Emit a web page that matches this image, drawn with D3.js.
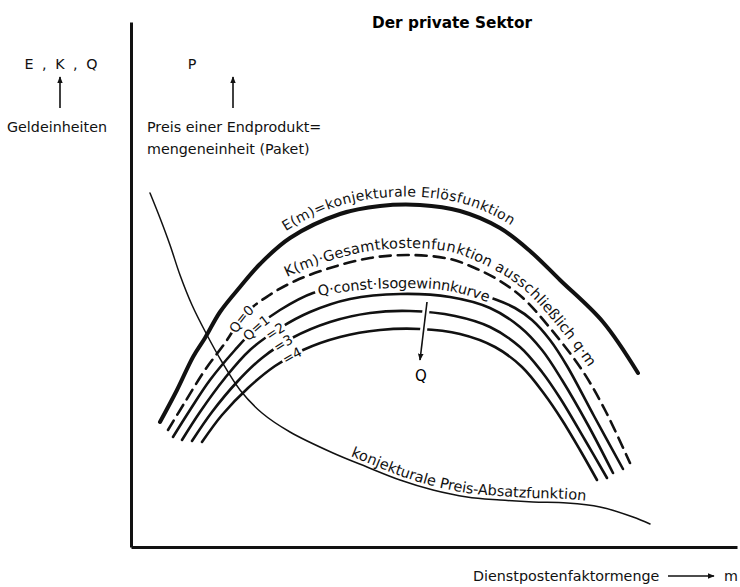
<!DOCTYPE html>
<html>
<head>
<meta charset="utf-8">
<script src="https://cdn.jsdelivr.net/npm/d3@7"></script>
<style>
  html, body { margin: 0; padding: 0; background: #fff; }
  svg { display: block; font-family: "DejaVu Sans", sans-serif; }
</style>
</head>
<body>
<div id="chart"></div>
<script>
// curves as [m, value] pairs (arbitrary units)
const erloes = [[29,125],[46,157],[62,190],[74,209],[89,235],[109,260],[129,283],[159,309],[209,333],[249,341],[289,342],[329,336],[369,319],[399,296],[429,267],[472,225],[507,174]];
const kosten = [[37,117],[54,145],[74,177],[94,204],[114,233],[137,251],[164,266],[199,279],[239,289],[279,292],[319,288],[346,278],[369,266],[392,249],[419,219],[451,177],[474,137],[499,84]];
const iso1 = [[42,110],[59,137],[79,167],[104,197],[127,221],[149,237],[182,254],[219,261],[269,264],[319,261],[366,247],[384,239],[401,227],[419,207],[436,181],[463,131],[492,78]];
const iso2 = [[51,107],[69,135],[94,169],[119,197],[149,219],[179,235],[219,248],[269,253],[319,250],[359,239],[389,220],[411,197],[431,167],[457,122],[482,74]];
const iso3 = [[61,106],[81,135],[106,165],[131,189],[161,209],[199,225],[239,234],[279,236],[324,231],[359,220],[389,200],[411,175],[429,149],[454,107],[476,69]];
const iso4 = [[71,105],[91,132],[117,159],[144,181],[172,197],[209,210],[249,217],[289,218],[329,213],[364,200],[391,180],[414,152],[431,127],[449,97],[466,67]];
const preisAbsatz = [[19,354],[29,329],[39,302],[49,272],[61,242],[76,212],[91,185],[109,157],[131,134],[159,115],[202,94],[236,80],[269,67],[302,57],[336,50],[369,47],[402,45],[436,44],[469,40],[502,30],[519,23]];

// Q direction arrow (from, to)
const qArrow = [[296,245],[289,187]];

// Q values written on the isogewinn curves, and where
const isoLabels = ["Q=0", "Q=1", "=2", "=3", "=4"];
const isoLabelAt = [110, 125, 144, 152, 161];

const W = 740, H = 587;

const x = d3.scaleLinear().domain([0, 606]).range([131, 737]);
const y = d3.scaleLinear().domain([0, 525]).range([547, 22]);

const svg = d3.select('#chart').append('svg')
  .attr('width', W)
  .attr('height', H);

const defs = svg.append('defs');
defs.append('marker')
  .attr('id', 'head')
  .attr('viewBox', '0 0 10 10')
  .attr('refX', 9).attr('refY', 5)
  .attr('markerWidth', 7).attr('markerHeight', 7)
  .attr('markerUnits', 'userSpaceOnUse')
  .attr('orient', 'auto')
  .append('path')
  .attr('d', 'M0,1 L10,5 L0,9 Z')
  .attr('fill', '#111');

// axes, no ticks
svg.append('g')
  .attr('transform', `translate(0,${y(0)})`)
  .call(d3.axisBottom(x).tickValues([]).tickSizeOuter(0))
  .select('.domain').attr('stroke', '#111').attr('stroke-width', 3);

svg.append('g')
  .attr('transform', `translate(${x(0)},0)`)
  .call(d3.axisLeft(y).tickValues([]).tickSizeOuter(0))
  .select('.domain').attr('stroke', '#111').attr('stroke-width', 3);

const line = d3.line()
  .x(d => x(d[0]))
  .y(d => y(d[1]))
  .curve(d3.curveCatmullRom.alpha(0.5));

const curves = [
  { id: 'c-e', data: erloes, width: 4, dash: null },
  { id: 'c-k', data: kosten, width: 2.6, dash: '11,7' },
  { id: 'c-q1', data: iso1, width: 2.6, dash: null },
  { id: 'c-q2', data: iso2, width: 2.6, dash: null },
  { id: 'c-q3', data: iso3, width: 2.6, dash: null },
  { id: 'c-q4', data: iso4, width: 2.6, dash: null },
  { id: 'c-p', data: preisAbsatz, width: 1.5, dash: null }
];

svg.selectAll('.curve')
  .data(curves)
  .join('path')
    .attr('class', 'curve')
    .attr('id', d => d.id)
    .attr('d', d => line(d.data))
    .attr('fill', 'none')
    .attr('stroke', '#111')
    .attr('stroke-width', d => d.width)
    .attr('stroke-dasharray', d => d.dash)
    .attr('stroke-linecap', 'round');

// path length where the curve reaches a given m
function lenAtX(id, m) {
  const node = document.getElementById(id);
  const px = x(m);
  let lo = 0, hi = node.getTotalLength();
  for (let i = 0; i < 40; i++) {
    const mid = (lo + hi) / 2;
    if (node.getPointAtLength(mid).x < px) lo = mid; else hi = mid;
  }
  return lo;
}

const maskLayer = svg.append('g');

function pathLabel(id, text, m, opts = {}) {
  const off = lenAtX(id, m);
  const t = svg.append('text')
    .attr('font-size', opts.size || 14.5)
    .attr('fill', '#111');
  t.append('textPath')
    .attr('href', '#' + id)
    .attr('startOffset', off)
    .attr('text-anchor', opts.anchor || 'start')
    .append('tspan')
    .attr('dy', opts.dy || 0)
    .text(text);
  if (opts.gap) {
    // break the curve under the lettering
    const node = document.getElementById(id);
    const total = node.getTotalLength();
    const len = t.node().getComputedTextLength() + opts.gap;
    const start = opts.anchor === 'middle' ? off - len / 2 : off - opts.gap / 2;
    maskLayer.append('path')
      .attr('d', node.getAttribute('d'))
      .attr('fill', 'none')
      .attr('stroke', '#fff')
      .attr('stroke-width', 6)
      .attr('stroke-dasharray', `0,${Math.max(0, start)},${len},${total}`);
  }
}

// running labels
pathLabel('c-e', 'E(m)=konjekturale Erlösfunktion', 159, { dy: -8, size: 14 });
pathLabel('c-k', 'K(m)·Gesamtkostenfunktion ausschließlich q·m', 159, { dy: -7 });
pathLabel('c-q1', 'Q·const·Isogewinnkurve', 187, { dy: '0.35em', gap: 6 });
pathLabel('c-p', 'konjekturale Preis-Absatzfunktion', 218, { dy: -4 });

// Q values on the isogewinn curves
['c-k', 'c-q1', 'c-q2', 'c-q3', 'c-q4'].forEach((id, i) => {
  pathLabel(id, isoLabels[i], isoLabelAt[i], { dy: '0.35em', gap: 3, anchor: 'middle', size: 13.5 });
});

// arrow for growing Q, white gap where it crosses the curves
svg.append('line')
  .attr('x1', x(qArrow[0][0])).attr('y1', y(qArrow[0][1]))
  .attr('x2', x(qArrow[1][0])).attr('y2', y(qArrow[1][1]))
  .attr('stroke', '#fff').attr('stroke-width', 7);
svg.append('line')
  .attr('x1', x(qArrow[0][0])).attr('y1', y(qArrow[0][1]))
  .attr('x2', x(qArrow[1][0])).attr('y2', y(qArrow[1][1]))
  .attr('stroke', '#111').attr('stroke-width', 1.6)
  .attr('marker-end', 'url(#head)');
svg.append('text')
  .attr('x', x(qArrow[1][0]) + 1)
  .attr('y', y(qArrow[1][1]) + 21)
  .attr('text-anchor', 'middle')
  .attr('font-size', 15)
  .text('Q');

// title and axis captions
svg.append('text')
  .attr('x', 452).attr('y', 28)
  .attr('text-anchor', 'middle')
  .attr('font-size', 15.3).attr('font-weight', 'bold')
  .text('Der private Sektor');

const captions = [
  { x: 62, y: 69, t: 'E , K , Q', anchor: 'middle', ls: 2 },
  { x: 57, y: 132, t: 'Geldeinheiten', anchor: 'middle', ls: 0 },
  { x: 192, y: 69, t: 'P', anchor: 'middle', ls: 0 },
  { x: 147, y: 132, t: 'Preis einer Endprodukt=', anchor: 'start', ls: 0 },
  { x: 147, y: 154, t: 'mengeneinheit (Paket)', anchor: 'start', ls: 0 },
  { x: 473, y: 581, t: 'Dienstpostenfaktormenge', anchor: 'start', ls: 0 },
  { x: 731, y: 581, t: 'm', anchor: 'middle', ls: 0 }
];
svg.selectAll('.caption')
  .data(captions)
  .join('text')
    .attr('class', 'caption')
    .attr('x', d => d.x).attr('y', d => d.y)
    .attr('text-anchor', d => d.anchor)
    .attr('font-size', 14.3)
    .attr('letter-spacing', d => d.ls)
    .attr('fill', '#111')
    .text(d => d.t);

const arrows = [
  [60, 108, 60, 77],
  [233, 108, 233, 77],
  [668, 576, 714, 576]
];
svg.selectAll('.cap-arrow')
  .data(arrows)
  .join('line')
    .attr('class', 'cap-arrow')
    .attr('x1', d => d[0]).attr('y1', d => d[1])
    .attr('x2', d => d[2]).attr('y2', d => d[3])
    .attr('stroke', '#111').attr('stroke-width', 1.6)
    .attr('marker-end', 'url(#head)');
</script>
</body>
</html>
